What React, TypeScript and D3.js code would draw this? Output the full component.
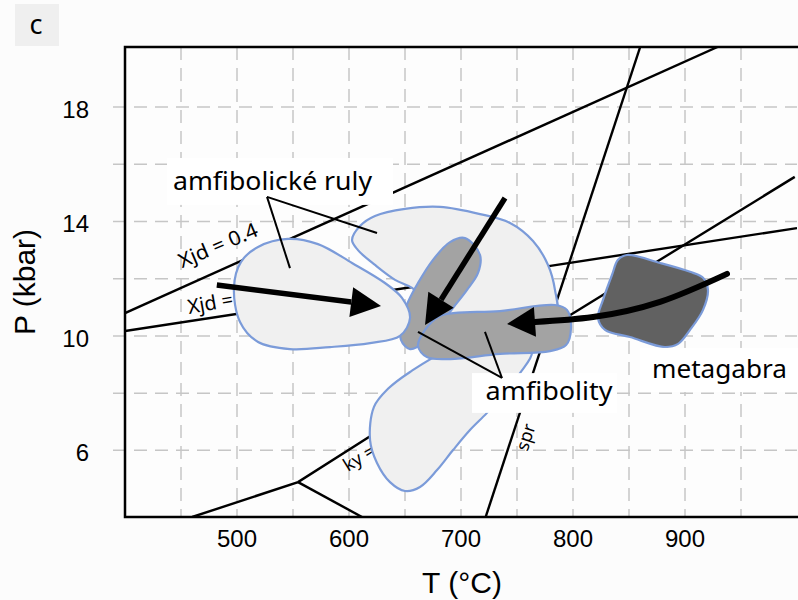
import React from "react";
import * as d3 from "d3";

// ---------- data (T in °C, P in kbar) ----------
const xTicks = [500, 600, 700, 800, 900];
const yTicks = [6, 10, 14, 18];
const xGrid = [450, 500, 550, 600, 650, 700, 750, 800, 850, 900, 950];
const yGrid = [6, 8, 10, 12, 14, 16, 18];

const lineXjd04: [number, number][] = [[400, 10.8], [929, 20.1]];
const lineXjd05: [number, number][] = [[400, 10.17], [1000, 13.77]];
const lineSpr: [number, number][] = [[860, 20.1], [722, 3.67]];
const lineNE: [number, number][] = [[790, 10.55], [998, 15.56]];
const lineAndKy: [number, number][] = [[460, 3.67], [554.5, 4.89], [628, 6.72]];
const lineKySil: [number, number][] = [[554.5, 4.89], [611.6, 3.67]];

const fieldUpper: [number, number][] = [
  [602.7, 13.35], [609.8, 13.84], [623.2, 14.19], [650, 14.44], [681.3, 14.51], [717, 14.26],
  [743.8, 13.95], [764.3, 13.32], [777.7, 12.48], [783.9, 11.61], [784.8, 10.73], [752.7, 10.21],
  [699.1, 10.21], [667.9, 11.26], [656.3, 11.68], [641.1, 11.96], [623.2, 12.48], [608, 13.0],
];
const fieldLower: [number, number][] = [
  [685.7, 9.44], [654.5, 8.74], [634.8, 8.15], [622.3, 7.52], [618.8, 6.36], [625, 5.56],
  [636.6, 4.89], [650, 4.58], [663.4, 4.72], [678.6, 5.31], [692.9, 6.01], [708, 6.71],
  [723.2, 7.31], [739.3, 8.04], [752.7, 8.7], [763.4, 9.44], [752.7, 9.86], [717, 9.68],
];
const fieldLeft: [number, number][] = [
  [497.3, 11.71], [503.6, 12.59], [518.8, 13.11], [545.5, 13.39], [572.3, 13.21], [602.7, 12.55],
  [632.1, 11.85], [647.3, 11.33], [654.5, 10.63], [645.5, 10.0], [618.8, 9.75], [583, 9.61],
  [547.3, 9.54], [518.8, 9.79], [502.7, 10.49],
];
const amfDiag: [number, number][] = [
  [703.6, 13.42], [717, 12.83], [715.2, 12.2], [705.4, 11.61], [692.9, 10.98], [681.3, 10.38],
  [667.9, 9.79], [654.5, 9.54], [646.4, 9.86], [647.3, 10.63], [652.7, 11.19], [661.6, 11.85],
  [675, 12.66], [690.2, 13.28],
];
const amfHoriz: [number, number][] = [
  [681.3, 10.7], [734.8, 10.87], [783.9, 11.08], [794.6, 10.91], [798.2, 10.28], [793.8, 9.68],
  [779.5, 9.47], [734.8, 9.37], [690.2, 9.19], [669.6, 9.26], [661.6, 9.65], [667.9, 10.21],
];
const metagabra: [number, number][] = [
  [848.2, 12.83], [877.7, 12.55], [904.5, 12.24], [916.1, 12.03], [920.5, 11.61], [916.1, 10.91],
  [904.5, 10.21], [893.8, 9.72], [882.1, 9.61], [850.9, 9.96], [828.6, 10.21], [822.3, 10.63],
  [826.8, 11.26], [834.8, 12.13], [840.2, 12.66],
];

const arrowLeft: [number, number][] = [[482, 11.78], [628.6, 11.05]];
const arrowTop: [number, number][] = [[739.3, 14.82], [667.9, 10.38]];
const arrowRight: [number, number][] = [
  [937.5, 12.17], [877.7, 11.19], [817.9, 10.66], [766.1, 10.49], [741.1, 10.42],
];

const leadersRuly: [number, number][][] = [
  [[526.8, 14.86], [547.3, 12.37]],
  [[526.8, 14.86], [625, 13.6]],
];
const leadersAmf: [number, number][][] = [
  [[736.6, 8.53], [661.6, 10.14]],
  [[736.6, 8.53], [721.4, 10.14]],
];

const labelBoxes = [
  { t0: 437.5, t1: 639.3, p0: 14.58, p1: 16.22 },
  { t0: 709.8, t1: 839.3, p0: 7.31, p1: 8.7 },
  { t0: 859.8, t1: 1003, p0: 8.04, p1: 9.58 },
];
const bigLabels = [
  { text: "amfibolické ruly", t: 531.7, p: 15.1, len: 199 },
  { text: "amfibolity", t: 778.6, p: 7.76, len: 127 },
  { text: "metagabra", t: 930.8, p: 8.53, len: 135 },
];

// ---------- layout ----------
const W = 798;
const H = 600;
const x = d3.scaleLinear().domain([400, 1000]).range([125, 797]);
const y = d3.scaleLinear().domain([3.67, 20.1]).range([517, 47]);

const LABEL_FONT = "'Noto Sans', 'Open Sans', sans-serif";
const AXIS_FONT = "'Liberation Sans', Arial, sans-serif";
const BLUE = "#7b9bd9";

const pathLine = d3
  .line<[number, number]>()
  .x((d) => x(d[0]))
  .y((d) => y(d[1]));
const pathClosed = d3
  .line<[number, number]>()
  .x((d) => x(d[0]))
  .y((d) => y(d[1]))
  .curve(d3.curveCatmullRomClosed.alpha(0.5));
const pathSmooth = d3
  .line<[number, number]>()
  .x((d) => x(d[0]))
  .y((d) => y(d[1]))
  .curve(d3.curveNatural);

function headPts(tipD: [number, number], fromD: [number, number], len: number, half: number) {
  const tx = x(tipD[0]), ty = y(tipD[1]);
  const fx = x(fromD[0]), fy = y(fromD[1]);
  const dx = tx - fx, dy = ty - fy;
  const d = Math.hypot(dx, dy);
  const ux = dx / d, uy = dy / d;
  const bx = tx - ux * len, by = ty - uy * len;
  return {
    base: [bx, by] as [number, number],
    poly: `${tx},${ty} ${bx - uy * half},${by + ux * half} ${bx + uy * half},${by - ux * half}`,
  };
}

function StraightArrow({ pts }: { pts: [number, number][] }) {
  const h = headPts(pts[1], pts[0], 30, 15);
  return (
    <g>
      <line x1={x(pts[0][0])} y1={y(pts[0][1])} x2={h.base[0]} y2={h.base[1]} stroke="#000" strokeWidth={5.5} />
      <polygon points={h.poly} fill="#000" />
    </g>
  );
}

function CurvedArrow({ pts }: { pts: [number, number][] }) {
  const n = pts.length;
  const h = headPts(pts[n - 1], pts[n - 2], 28, 15);
  const shaft = pts.slice(0, n - 1);
  return (
    <g>
      <path d={pathSmooth(shaft) || ""} fill="none" stroke="#000" strokeWidth={6} strokeLinecap="round" />
      <polygon points={h.poly} fill="#000" />
    </g>
  );
}

export default function App() {
  const left = x(400), right = x(1000), top = y(20.1), bottom = y(3.67);
  return (
    <svg
      width={W}
      height={H}
      style={{ position: "absolute", left: 0, top: 0, background: "#fcfcfc" }}
      xmlns="http://www.w3.org/2000/svg"
    >
      <defs>
        <clipPath id="plot">
          <rect x={left} y={top} width={right - left} height={bottom - top} />
        </clipPath>
      </defs>
      <rect x={0} y={0} width={W} height={H} fill="#fcfcfc" />
      <rect x={left} y={top} width={right - left} height={bottom - top} fill="#fdfdfd" />

      {/* grid */}
      <g stroke="#c6c6c6" strokeWidth={1.5} strokeDasharray="13,8">
        {xGrid.map((v) => (
          <line key={"gx" + v} x1={x(v)} x2={x(v)} y1={top} y2={bottom} />
        ))}
        {yGrid.map((v) => (
          <line key={"gy" + v} x1={left - 12} x2={right} y1={y(v)} y2={y(v)} />
        ))}
      </g>

      {/* reaction lines */}
      <g clipPath="url(#plot)" fill="none" stroke="#000" strokeWidth={2.4}>
        <path d={pathLine(lineXjd04) || ""} />
        <path d={pathLine(lineXjd05) || ""} />
        <path d={pathLine(lineSpr) || ""} />
        <path d={pathLine(lineNE) || ""} />
        <path d={pathLine(lineAndKy) || ""} />
        <path d={pathLine(lineKySil) || ""} />
      </g>

      {/* line labels */}
      <g fontFamily={LABEL_FONT} fill="#000">
        <text
          x={x(450.9)}
          y={y(12.37)}
          fontSize={20}
          textLength={84}
          lengthAdjust="spacingAndGlyphs"
          transform={`rotate(-23 ${x(450.9)} ${y(12.37)})`}
        >
          Xjd = 0.4
        </text>
        <text
          x={x(457.1)}
          y={y(10.77)}
          fontSize={20}
          transform={`rotate(-10 ${x(457.1)} ${y(10.77)})`}
        >
          Xjd = 0.5
        </text>
        <text
          x={x(599.1)}
          y={y(5.24)}
          fontSize={18}
          transform={`rotate(-32 ${x(599.1)} ${y(5.24)})`}
        >
          ky = sil
        </text>
        <text
          x={x(757.1)}
          y={y(6.47)}
          fontSize={18}
          textAnchor="middle"
          dominantBaseline="central"
          transform={`rotate(-72 ${x(757.1)} ${y(6.47)})`}
        >
          spr
        </text>
      </g>

      {/* fields */}
      <g stroke={BLUE} strokeWidth={2.2} strokeLinejoin="round">
        <path d={pathClosed(fieldUpper) || ""} fill="#f0f0f0" />
        <path d={pathClosed(fieldLower) || ""} fill="#f0f0f0" />
        <path d={pathClosed(amfDiag) || ""} fill="#a3a3a3" />
        <path d={pathClosed(amfHoriz) || ""} fill="#a3a3a3" />
        <path d={pathClosed(fieldLeft) || ""} fill="#f0f0f0" />
        <path d={pathClosed(metagabra) || ""} fill="#616161" />
      </g>

      {/* arrows */}
      <StraightArrow pts={arrowLeft} />
      <StraightArrow pts={arrowTop} />
      <CurvedArrow pts={arrowRight} />

      {/* label boxes and labels */}
      {labelBoxes.map((b, i) => (
        <rect
          key={"lb" + i}
          x={x(b.t0)}
          y={y(b.p1)}
          width={x(b.t1) - x(b.t0)}
          height={y(b.p0) - y(b.p1)}
          fill="#ffffff"
        />
      ))}
      {bigLabels.map((l) => (
        <text
          key={l.text}
          x={x(l.t)}
          y={y(l.p)}
          fontFamily={LABEL_FONT}
          fontSize={25}
          textAnchor="middle"
          textLength={l.len}
          lengthAdjust="spacingAndGlyphs"
          fill="#000"
        >
          {l.text}
        </text>
      ))}

      {/* leaders */}
      <g stroke="#000" strokeWidth={2} fill="none">
        {[...leadersRuly, ...leadersAmf].map((seg, i) => (
          <path key={"ld" + i} d={pathLine(seg) || ""} />
        ))}
      </g>

      {/* frame */}
      <rect x={left} y={top} width={W + 10 - left} height={bottom - top} fill="none" stroke="#000" strokeWidth={2.5} />

      {/* axes */}
      <g fontFamily={AXIS_FONT} fontSize={24} fill="#000">
        {xTicks.map((v) => (
          <text key={"xt" + v} x={x(v)} y={bottom + 30} textAnchor="middle">
            {v}
          </text>
        ))}
        {yTicks.map((v) => (
          <text key={"yt" + v} x={89} y={y(v) + 11} textAnchor="end">
            {v}
          </text>
        ))}
      </g>
      <text x={462} y={593} fontFamily={AXIS_FONT} fontSize={30} textAnchor="middle" fill="#000">
        T (°C)
      </text>
      <text
        x={35}
        y={282}
        fontFamily={AXIS_FONT}
        fontSize={30}
        textAnchor="middle"
        transform="rotate(-90 35 282)"
        fill="#000"
      >
        P (kbar)
      </text>

      {/* panel tag */}
      <rect x={15} y={4} width={44} height={42} fill="#efefef" />
      <text x={36} y={34} fontFamily={LABEL_FONT} fontSize={27} textAnchor="middle" fill="#000">
        c
      </text>
    </svg>
  );
}
